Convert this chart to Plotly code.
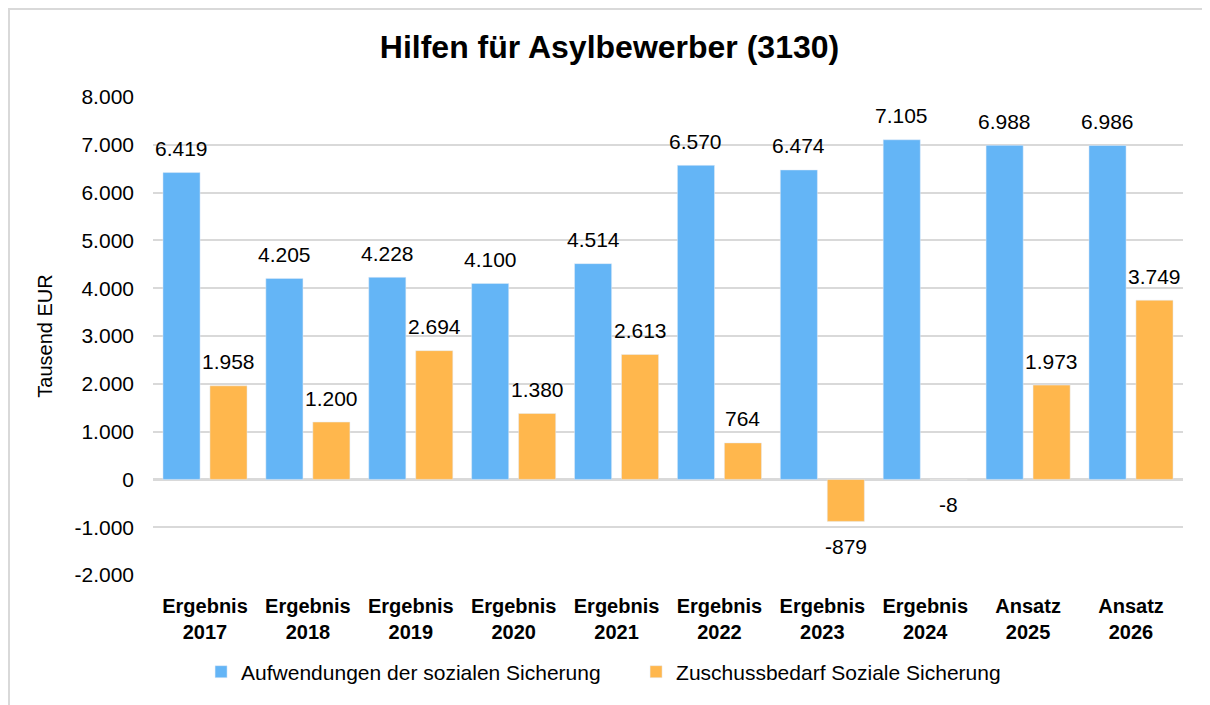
import plotly.graph_objects as go

categories = ["Ergebnis<br>2017", "Ergebnis<br>2018", "Ergebnis<br>2019", "Ergebnis<br>2020",
              "Ergebnis<br>2021", "Ergebnis<br>2022", "Ergebnis<br>2023", "Ergebnis<br>2024",
              "Ansatz<br>2025", "Ansatz<br>2026"]
aufwendungen = [6419, 4205, 4228, 4100, 4514, 6570, 6474, 7105, 6988, 6986]
zuschuss = [1958, 1200, 2694, 1380, 2613, 764, -879, -8, 1973, 3749]
y_ticks = [-2000, -1000, 0, 1000, 2000, 3000, 4000, 5000, 6000, 7000, 8000]

def fmt(v):
    return f"{v:,}".replace(",", ".")

FONT = "Liberation Sans, Arial, sans-serif"
BLUE = "#64B5F6"
ORANGE = "#FFB74D"

fig = go.Figure()
fig.add_trace(go.Bar(x=categories, y=aufwendungen, name="Aufwendungen der sozialen Sicherung",
                     marker_color=BLUE))
fig.add_trace(go.Bar(x=categories, y=zuschuss, name="Zuschussbedarf Soziale Sicherung",
                     marker_color=ORANGE))

# data labels
annotations = []
for series, shift in ((aufwendungen, -23.5), (zuschuss, 23.5)):
    for cat, v in zip(categories, series):
        annotations.append(dict(
            x=cat, y=v, xref="x", yref="y", text=fmt(v), showarrow=False,
            xshift=shift, yshift=24 if v >= 0 else -25, yanchor="middle",
            font=dict(size=21, family=FONT, color="black"),
        ))

fig.update_layout(
    width=1210, height=705,
    paper_bgcolor="white", plot_bgcolor="white",
    font=dict(family=FONT, color="black"),
    margin=dict(l=145, r=35, t=89, b=138, autoexpand=False),
    title=dict(text="<b>Hilfen für Asylbewerber (3130)</b>", x=601.5 / 1210, xanchor="center",
               y=1 - 39 / 705, yanchor="middle", font=dict(size=32, family=FONT, color="black")),
    barmode="group", bargap=0.087, bargroupgap=0.21,
    legend=dict(orientation="h", x=0.469, xanchor="center", y=-0.203, yanchor="middle",
                font=dict(size=21, family=FONT, color="black"), itemwidth=30,
                entrywidth=390, traceorder="normal"),
    xaxis=dict(tickfont=dict(size=20, family=FONT, color="black"), showline=False,
               ticks="", tickprefix="<b>", ticksuffix="</b>", automargin=False),
    yaxis=dict(range=[-2000, 8000], tickvals=y_ticks, ticktext=[fmt(v) for v in y_ticks],
               tickfont=dict(size=21, family=FONT, color="black"),
               showgrid=True, gridcolor="#D9D9D9", gridwidth=2,
               zeroline=True, zerolinecolor="#D9D9D9", zerolinewidth=3,
               ticks="", ticklen=0, automargin=False,
               title=dict(text="Tausend EUR", font=dict(size=20, family=FONT, color="black"), standoff=16)),
    annotations=annotations,
    shapes=[
        dict(type="rect", xref="paper", yref="paper",
             x0=(1 - 145) / 1030, x1=(1230 - 145) / 1030,
             y0=(567 - 720) / 478, y1=(567 - 1) / 478,
             line=dict(color="#D9D9D9", width=2), fillcolor="rgba(0,0,0,0)", layer="below"),
    ],
)
fig.update_xaxes(ticklabelstandoff=17)
fig.update_yaxes(ticklabelstandoff=18)

fig.write_html("out.html")
